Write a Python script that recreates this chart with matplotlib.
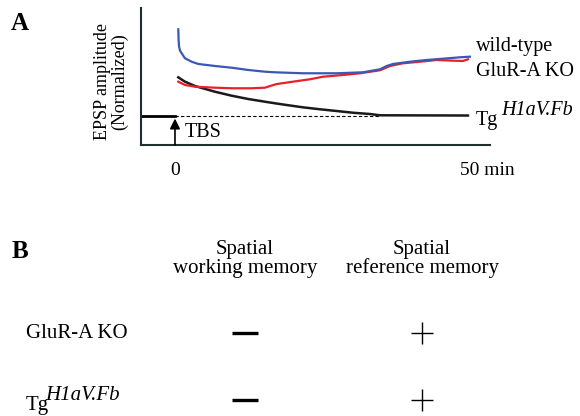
import matplotlib.pyplot as plt

plt.rcParams['font.family'] = ['Liberation Serif', 'DejaVu Serif']
plt.rcParams['figure.dpi'] = 100

W, H = 580, 416

# A: time after TBS (min) and normalized EPSP amplitude (%)
wt_t = [0.56, 0.62, 0.7, 0.85, 1.14, 1.69, 2.83, 3.95, 6.78, 9.61, 12.42, 15.25, 16.95, 21.69,
        27.41, 31.86, 34.75, 35.88, 36.95, 39.83, 42.66, 45.42, 48.31, 50.0]
wt_v = [214.9, 200.0, 191.7, 186.5, 182.9, 176.3, 171.7, 168.7, 166.0, 163.7, 160.7, 158.4,
        157.6, 156.3, 156.3, 157.6, 161.6, 166.0, 168.7, 171.7, 174.0, 175.7, 177.6, 178.4]

ko_t = [0.56, 1.69, 3.39, 6.78, 9.61, 13.0, 15.25, 16.39, 17.3, 20.0, 22.88, 25.08,
        28.47, 31.36, 34.75, 36.44, 38.64, 41.53, 44.36, 47.12, 48.81, 49.66]
ko_v = [145.1, 140.7, 138.4, 137.1, 136.3, 136.3, 137.1, 140.0, 142.0, 145.1, 148.3, 151.7,
        154.0, 156.3, 160.3, 166.0, 169.6, 171.7, 174.0, 173.1, 172.7, 174.9]

tg_t = [0.56, 1.69, 3.39, 6.78, 9.61, 12.42, 15.25, 16.95, 18.93, 21.69, 24.58, 27.41,
        30.17, 33.05, 34.75, 49.66]
tg_v = [150.9, 145.1, 139.3, 131.7, 126.4, 122.0, 118.4, 116.3, 114.0, 110.9, 108.3, 106.0,
        103.7, 102.0, 100.3, 100.0]

baseline_t = [-6, 0]
baseline_v = [100, 100]

# B: behaviour table
col_labels = ['Spatial\nworking memory', 'Spatial\nreference memory']
row_labels = ['GluR-A KO', 'Tg']
row_sup = ['', 'H1aV.Fb']
phenotype = [['-', '+'], ['-', '+']]


def fx(x):
    return x / W


def fy(y):
    return 1 - y / H


fig = plt.figure(figsize=(W / 100, H / 100))

# ---- panel A ----
ax = fig.add_axes([fx(141), fy(145), 349 / W, 137 / H])
ax.set_xlim(-5.76, 53.4)
ax.set_ylim(60.7, 243.3)
for s in ['top', 'right']:
    ax.spines[s].set_visible(False)
for s in ['left', 'bottom']:
    ax.spines[s].set_color('#1f2f2f')
    ax.spines[s].set_linewidth(1.5)
ax.set_xticks([])
ax.set_yticks([])

ax.plot(baseline_t, baseline_v, color='black', lw=2)
ax.plot([0, tg_t[-2]], [100, 100], color='black', lw=0.8, ls=(0, (3, 2)))
ax.plot(tg_t, tg_v, color='#1a1a1a', lw=1.8)
ax.plot(ko_t, ko_v, color='#e8202a', lw=1.6)
ax.plot(wt_t, wt_v, color='#3a58b4', lw=1.6)

ax.annotate('', xy=(0, 96), xytext=(0, 60.7),
            arrowprops=dict(arrowstyle='-|>', color='black', lw=1.2,
                            mutation_scale=15, shrinkA=0, shrinkB=0))
ax.text(1.7, 77, 'TBS', fontsize=14.5, va='center', ha='left')

ax.text(0, 27, '0', fontsize=14, ha='center', va='center', clip_on=False)
ax.text(48.3, 27, '50 min', fontsize=14, ha='left', va='center', clip_on=False)

fig.text(fx(111), fy(82), 'EPSP amplitude\n(Normalized)', fontsize=13,
         rotation=90, ha='center', va='center', linespacing=1.0)

fig.text(fx(476), fy(47), 'wild-type', fontsize=14.5, ha='left', va='center')
fig.text(fx(476), fy(72), 'GluR-A KO', fontsize=14.5, ha='left', va='center')
fig.text(fx(476), fy(125), 'Tg', fontsize=14.5, ha='left', va='baseline')
fig.text(fx(501), fy(115), 'H1aV.Fb', fontsize=14.5, ha='left', va='baseline',
         style='italic')

fig.text(fx(20), fy(24), 'A', fontsize=18, weight='bold', ha='center', va='center')
fig.text(fx(20), fy(251), 'B', fontsize=18, weight='bold', ha='center', va='center')

# ---- panel B ----
col_x = [245, 422]
row_y = [333, 400]
axB = fig.add_axes([fx(col_x[0]), fy(row_y[1]), (col_x[1] - col_x[0]) / W,
                    (row_y[1] - row_y[0]) / H])
axB.set_xlim(0, 1)
axB.set_ylim(1, 0)
axB.axis('off')

for j, lab in enumerate(col_labels):
    fig.text(fx(col_x[j]), fy(259), lab, fontsize=15, ha='center', va='center',
             linespacing=0.95)

for i, lab in enumerate(row_labels):
    if row_sup[i]:
        fig.text(fx(26), fy(410), lab, fontsize=15, ha='left', va='baseline')
        fig.text(fx(45), fy(400), row_sup[i], fontsize=15, ha='left',
                 va='baseline', style='italic')
    else:
        fig.text(fx(26), fy(row_y[i]), lab, fontsize=15, ha='left', va='center')
    for j, v in enumerate(phenotype[i]):
        if v == '-':
            axB.plot([j], [i], marker='_', color='black', ms=18.7, mew=2.4, clip_on=False)
        else:
            axB.plot([j], [i], marker='+', color='black', ms=15.8, mew=1.0, clip_on=False)

fig.savefig('out.png', dpi=100)
